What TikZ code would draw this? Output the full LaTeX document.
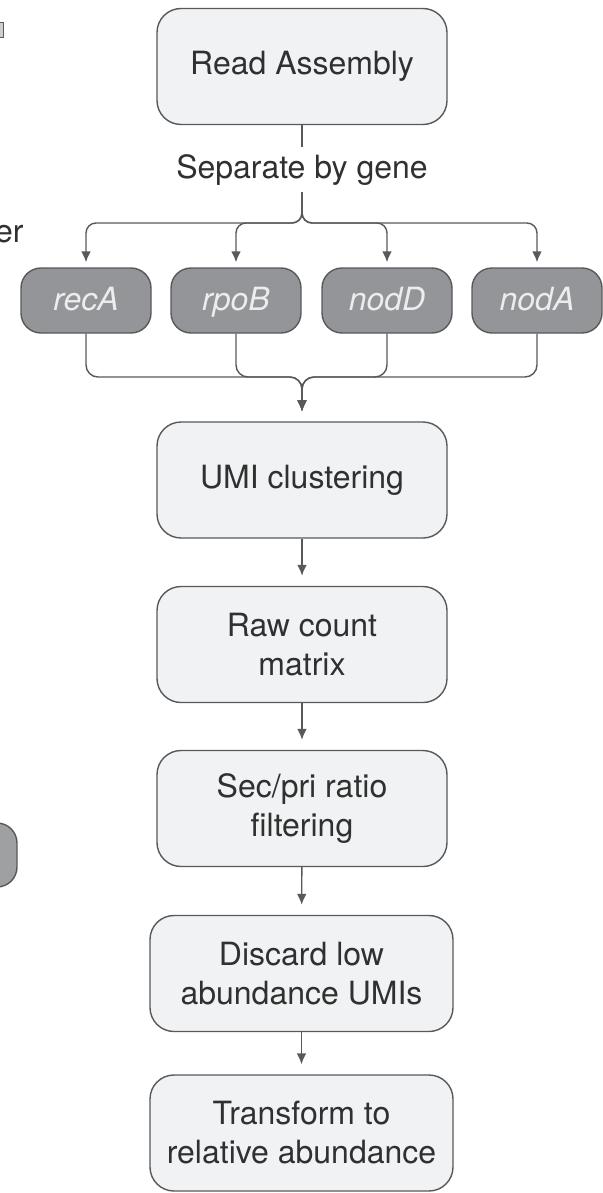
\documentclass[tikz,border=0pt]{standalone}
\usepackage{fontspec}
\setmainfont{TeX Gyre Heros}
\usetikzlibrary{arrows.meta}

\definecolor{stagefill}{HTML}{F1F2F3}
\definecolor{genefill}{HTML}{939598}
\definecolor{edgegray}{HTML}{58595B}
\definecolor{inkgray}{HTML}{303030}

\begin{document}
\begin{tikzpicture}[x=0.5pt,y=-0.5pt,
    stage/.style={draw=edgegray, line width=0.7pt, fill=stagefill, rounded corners=12pt,
        minimum width=145pt, minimum height=58pt, inner sep=0pt, align=center,
        text=inkgray, font=\fontsize{16}{19.5}\selectfont},
    gene/.style={draw=edgegray, line width=0.7pt, fill=genefill, rounded corners=10pt,
        minimum width=65pt, minimum height=32.5pt, inner sep=0pt,
        text height=11.5pt, text depth=1.5pt,
        text=white!93!black, font=\fontsize{16}{19.5}\selectfont\itshape},
    link/.style={draw=edgegray, line width=0.7pt, -{Latex[length=5.5pt,width=4.8pt]}, shorten >=5pt}]
                \useasboundingbox (0,0) rectangle (603,1193);
                \clip (0,0) rectangle (603,1193);
                % cut-off pieces at the left edge
                \draw[edgegray, line width=0.5pt, fill=stagefill!85!black] (-8,23) rectangle (3.5,38);
                \node[anchor=base east, inner sep=0pt, text=inkgray, font=\fontsize{16}{19.5}\selectfont] (cut) at (24,242) {er};
                \draw[edgegray, line width=0.7pt, fill=genefill!90!white, rounded corners=10pt] (-120,823) rectangle (17,887);
                % stages
                \node[stage] (read) at (302,66.5) {Read Assembly};
                \node[anchor=base, text=inkgray, font=\fontsize{16}{19.5}\selectfont] (sep) at (302,178) {Separate by gene};
                \foreach \g/\x in {recA/86,rpoB/236,nodD/387,nodA/537}
                    \node[gene] (\g) at (\x,300.5) {\g};
                \node[stage] (umi) at (302,480) {UMI clustering};
                \node[stage] (raw) at (302,644.5) {Raw count\\matrix};
                \node[stage] (ratio) at (302,808.5) {Sec/pri ratio\\filtering};
                \node[stage, minimum width=151.5pt] (low) at (301.5,973.5) {Discard low\\abundance UMIs};
                \node[stage, minimum width=151.5pt] (rel) at (301.5,1133) {Transform to\\relative abundance};
                % split and merge
                \coordinate (split) at (302,223);
                \coordinate (merge) at (302,377);
                \draw[edgegray, line width=0.7pt] (read) -- (sep);
                \foreach \g in {recA,rpoB,nodD,nodA}{
                    \draw[link, shorten >=2.5pt, rounded corners=5pt] (sep.south) -- (split) -| (\g.north);
                    \draw[link, rounded corners=6pt] (\g.south) |- (merge) -- (umi.north);
                }
                \draw[link] (umi) -- (raw);
                \draw[link] (raw) -- (ratio);
                \draw[link] (ratio) -- (low);
                \draw[link] (low) -- (rel);
            \end{tikzpicture}
\end{document}
